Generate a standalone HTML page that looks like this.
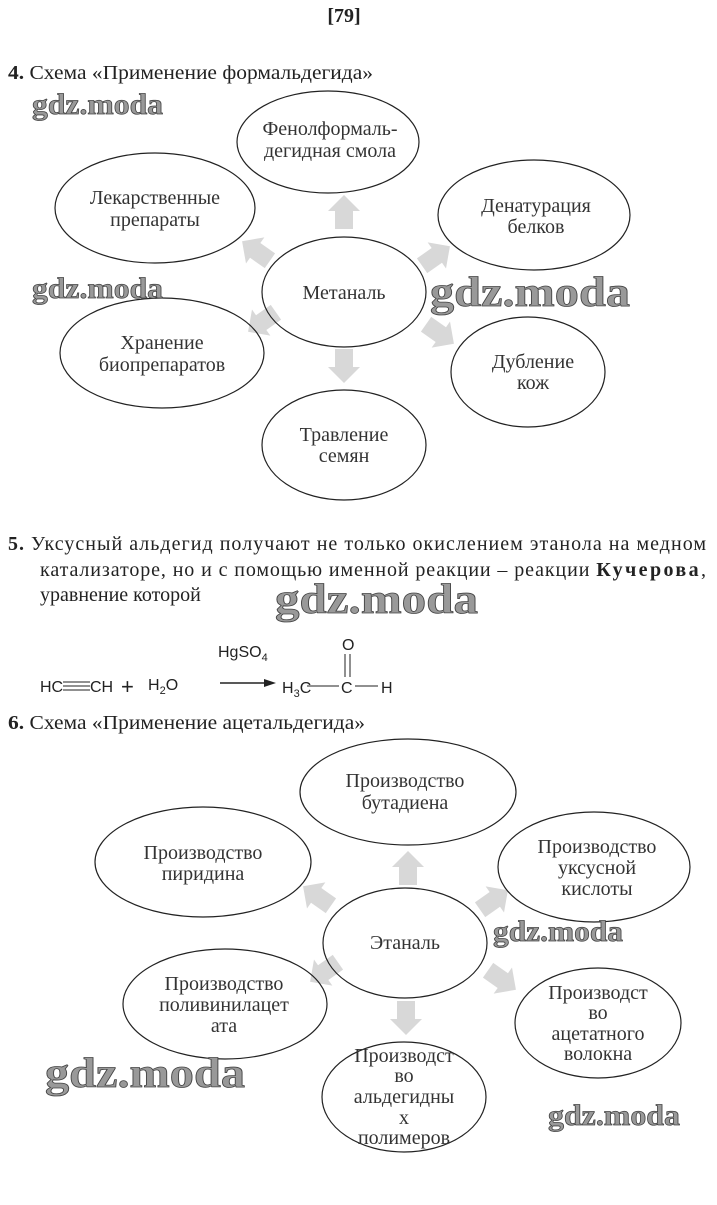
<!DOCTYPE html>
<html><head><meta charset="utf-8"><style>
html,body{margin:0;padding:0;background:#fff;}
svg{display:block}
.t{font-family:"Liberation Serif",serif;font-size:20px;fill:#222;}
.c{font-family:"Liberation Serif",serif;font-size:20px;fill:#333;text-anchor:middle;}
.w{font-family:"Liberation Serif",serif;font-weight:bold;fill:#999;stroke:#444;stroke-width:0.8;}
.s{font-family:"Liberation Sans",sans-serif;fill:#222;}
ellipse{fill:none;stroke:#222;stroke-width:1.2;}
.a{fill:#d8d8d8;}
</style></head><body>
<svg width="717" height="1205" viewBox="0 0 717 1205">
<defs><polygon id="ar" points="-9,17 -9,-1 -16,-1 0,-17 16,-1 9,-1 9,17"/></defs>
<text x="344" y="22" class="t" style="font-weight:bold;font-size:20px" text-anchor="middle">[79]</text>
<text x="8" y="79" class="t" textLength="365" lengthAdjust="spacingAndGlyphs"><tspan font-weight="bold">4.</tspan>  Схема «Применение формальдегида»</text>

<g class="a">
<use href="#ar" transform="translate(344,212)"/>
<use href="#ar" transform="translate(344,366) rotate(180)"/>
<use href="#ar" transform="translate(256,251) rotate(-55)"/>
<use href="#ar" transform="translate(436,256) rotate(55)"/>
<use href="#ar" transform="translate(262,322) rotate(-125)"/>
<use href="#ar" transform="translate(440,334) rotate(125)"/>
</g>
<ellipse cx="328" cy="142" rx="91" ry="51"/>
<ellipse cx="155" cy="208" rx="100" ry="55"/>
<ellipse cx="534" cy="215" rx="96" ry="55"/>
<ellipse cx="344" cy="292" rx="82" ry="55"/>
<ellipse cx="162" cy="353" rx="102" ry="55"/>
<ellipse cx="528" cy="372" rx="77" ry="55"/>
<ellipse cx="344" cy="445" rx="82" ry="55"/>
<text class="c" x="330" y="135">Фенолформаль-</text>
<text class="c" x="330" y="157">дегидная смола</text>
<text class="c" x="155" y="204">Лекарственные</text>
<text class="c" x="155" y="226">препараты</text>
<text class="c" x="536" y="212">Денатурация</text>
<text class="c" x="536" y="233">белков</text>
<text class="c" x="344" y="299">Метаналь</text>
<text class="c" x="162" y="349">Хранение</text>
<text class="c" x="162" y="371">биопрепаратов</text>
<text class="c" x="533" y="368">Дубление</text>
<text class="c" x="533" y="389">кож</text>
<text class="c" x="344" y="441">Травление</text>
<text class="c" x="344" y="462">семян</text>

<text class="w" x="32" y="114" font-size="30" textLength="131" lengthAdjust="spacingAndGlyphs">gdz.moda</text>
<text class="w" x="32" y="298" font-size="30" textLength="131" lengthAdjust="spacingAndGlyphs">gdz.moda</text>
<text class="w" x="430" y="306" font-size="42" textLength="200" lengthAdjust="spacingAndGlyphs">gdz.moda</text>

<text x="8" y="550" class="t" textLength="698" lengthAdjust="spacing"><tspan font-weight="bold">5.</tspan>  Уксусный альдегид получают не только окислением этанола на медном</text>
<text x="40" y="576" class="t" textLength="666" lengthAdjust="spacing">катализаторе, но и с помощью именной реакции – реакции <tspan font-weight="bold" letter-spacing="1.5">Кучерова</tspan>,</text>
<text x="40" y="601" class="t">уравнение которой</text>
<text class="w" x="275" y="613" font-size="42" textLength="203" lengthAdjust="spacingAndGlyphs">gdz.moda</text>

<text class="s" x="218" y="657" font-size="16">HgSO<tspan font-size="11" dy="4">4</tspan></text>
<text class="s" x="40" y="692" font-size="16">HC</text>
<line x1="63" y1="682" x2="90" y2="682" stroke="#222" stroke-width="1"/>
<line x1="63" y1="686" x2="90" y2="686" stroke="#222" stroke-width="1"/>
<line x1="63" y1="690" x2="90" y2="690" stroke="#222" stroke-width="1"/>
<text class="s" x="90" y="692" font-size="16">CH</text>
<text class="s" x="121" y="694" font-size="22">+</text>
<text class="s" x="148" y="690" font-size="16">H<tspan font-size="11" dy="4">2</tspan><tspan dy="-4">O</tspan></text>
<line x1="220" y1="683" x2="268" y2="683" stroke="#222" stroke-width="1.6"/>
<polygon points="276,683 264,679 264,687" fill="#222"/>
<text class="s" x="282" y="693" font-size="16">H<tspan font-size="11" dy="4">3</tspan><tspan dy="-4">C</tspan></text>
<line x1="307" y1="686" x2="339" y2="686" stroke="#222" stroke-width="1"/>
<text class="s" x="341" y="693" font-size="16">C</text>
<line x1="355" y1="686" x2="378" y2="686" stroke="#222" stroke-width="1"/>
<text class="s" x="381" y="693" font-size="16">H</text>
<text class="s" x="342" y="650" font-size="16">O</text>
<line x1="345" y1="654" x2="345" y2="677" stroke="#222" stroke-width="1"/>
<line x1="350" y1="654" x2="350" y2="677" stroke="#222" stroke-width="1"/>

<text x="8" y="729" class="t" textLength="357" lengthAdjust="spacingAndGlyphs"><tspan font-weight="bold">6.</tspan>  Схема «Применение ацетальдегида»</text>

<g class="a">
<use href="#ar" transform="translate(408,868)"/>
<use href="#ar" transform="translate(406,1018) rotate(180)"/>
<use href="#ar" transform="translate(317,896) rotate(-55)"/>
<use href="#ar" transform="translate(494,900) rotate(55)"/>
<use href="#ar" transform="translate(324,972) rotate(-125)"/>
<use href="#ar" transform="translate(502,980) rotate(125)"/>
</g>
<ellipse cx="408" cy="792" rx="108" ry="53"/>
<ellipse cx="203" cy="862" rx="108" ry="55"/>
<ellipse cx="594" cy="867" rx="96" ry="55"/>
<ellipse cx="405" cy="943" rx="82" ry="55"/>
<ellipse cx="225" cy="1004" rx="102" ry="55"/>
<ellipse cx="598" cy="1023" rx="83" ry="55"/>
<ellipse cx="404" cy="1097" rx="82" ry="55"/>
<text class="c" x="405" y="787">Производство</text>
<text class="c" x="405" y="809">бутадиена</text>
<text class="c" x="203" y="859">Производство</text>
<text class="c" x="203" y="880">пиридина</text>
<text class="c" x="597" y="853">Производство</text>
<text class="c" x="597" y="874">уксусной</text>
<text class="c" x="597" y="895">кислоты</text>
<text class="c" x="405" y="949">Этаналь</text>
<text class="c" x="224" y="990">Производство</text>
<text class="c" x="224" y="1011">поливинилацет</text>
<text class="c" x="224" y="1032">ата</text>
<text class="c" x="598" y="999">Производст</text>
<text class="c" x="598" y="1019">во</text>
<text class="c" x="598" y="1040">ацетатного</text>
<text class="c" x="598" y="1060">волокна</text>
<text class="c" x="404" y="1062">Производст</text>
<text class="c" x="404" y="1082">во</text>
<text class="c" x="404" y="1103">альдегидны</text>
<text class="c" x="404" y="1124">х</text>
<text class="c" x="404" y="1144">полимеров</text>

<text class="w" x="493" y="941" font-size="30" textLength="130" lengthAdjust="spacingAndGlyphs">gdz.moda</text>
<text class="w" x="45" y="1087" font-size="42" textLength="200" lengthAdjust="spacingAndGlyphs">gdz.moda</text>
<text class="w" x="548" y="1125" font-size="30" textLength="132" lengthAdjust="spacingAndGlyphs">gdz.moda</text>
</svg>
</body></html>
